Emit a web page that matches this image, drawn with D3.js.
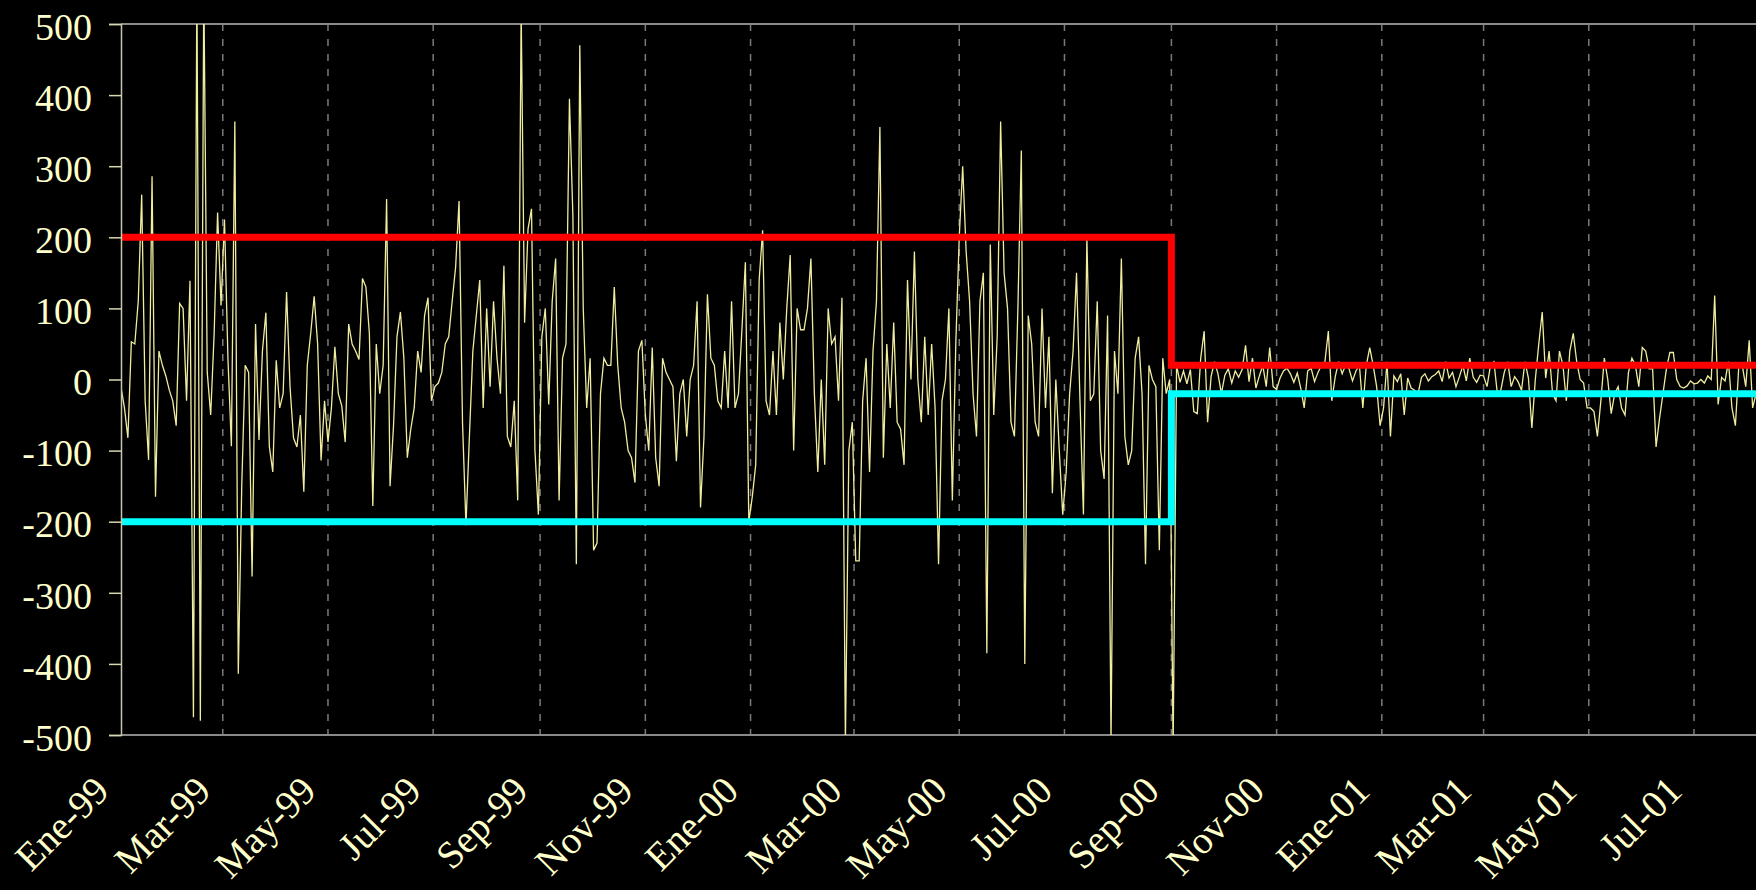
<!DOCTYPE html>
<html>
<head>
<meta charset="utf-8">
<script src="https://cdn.jsdelivr.net/npm/d3@7"></script>
<style>
  html, body { margin: 0; padding: 0; background: #000; }
  svg { display: block; }
</style>
</head>
<body>
<svg id="chart" width="1756" height="890"></svg>
<script>
// tick labels (every two months, starting Jan 1999)
const xLabels = ["Ene-99","Mar-99","May-99","Jul-99","Sep-99","Nov-99","Ene-00","Mar-00",
                 "May-00","Jul-00","Sep-00","Nov-00","Ene-01","Mar-01","May-01","Jul-01"];
const yTicks = [-500,-400,-300,-200,-100,0,100,200,300,400,500];

// daily series, one value every 2 days from 1 Jan 1999
const startDate = "1999-01-01";
const stepDays = 2;
const values1999a = [-11,-40,-82,53,50,110,260,-30,-113,286,
  -165,40,20,5,-15,-30,-65,107,100,-30,
  139,-475,560,-480,560,10,-50,64,235,104,
  225,30,-94,363,-414,-150,20,10,-277,78,
  -85,40,94,-94,-130,27,-40,-20,123,-10,
  -82,-95,-50,-158,20,65,117,50,-114,-30,
  -88,-40,46,-20,-37,-88,78,50,40,28,
  142,130,65,-178,50,-20,20];
const values1999b = [254,-150,-65,60,95,30,-110,-70,-40,40,
  10,90,115,-30,-10,-5,10,50,60,110,
  158,251,-60,-205,-80,40,90,140,-40,100,
  -10,110,30,-20,160,-80,-95,-30,-170,520,
  80,212,240,-100,-190,60,100,-35,110,170,
  -170,30,50,395,230,-260,470,100,-40,30,
  -240,-230,-20,30,20,20,130,20,-40,-60,
  -100,-110,-145,40,55,-50];
const values2000a = [-100,45,-110,-150,30,10,0,-10,-115,-20,
  0,-80,0,20,110,-180,-80,120,30,20,
  -30,-40,40,-40,110,-40,-20,70,165,-200,
  -165,-120,140,210,-30,-50,40,-50,80,0,
  100,175,-100,100,70,70,100,170,-20,-130,
  0,-120,100,50,60,-30,115,-510,-100,-60,
  -255,-255,-30,30,-130,40,110,355,-110,50,
  -40,80,-60,-70,-120,140,0];
const values2000b = [180,0,-60,60,-50,50,-40,-260,-30,0,
  100,-170,50,200,300,180,110,-20,-80,110,
  150,-385,190,-50,60,363,150,100,-60,-80,
  100,322,-400,90,50,-60,-80,100,-40,60,
  -160,0,-100,-190,-130,-20,40,150,-30,-190,
  200,-30,-20,110,-100,-140,90,-510,40,-20,
  170,-80,-120,-100,30,60,-20,-260,20,0,
  -10,-240,30,-20,0,-520];
const values2000c = [20,-4,12,-6,14,-45,-48,30,68,-60,
  4,25,8,-20,6,15,-5,12,3,14,
  48,-3,30,-12,5,20,-10,45,-10,-14,
  2,12,16,8,-4,9,-12,-40,12,16,
  -3,10,20,25,68,-30,4,25,8,20,
  15,-2,12,20,-40,20,45,20,-10,-65,
  -40,25,-80,5,-3,8,-50,2,-12,-15,
  -20,3,8,-2,4,7,12,-3,25,2,
  10,-10,4,20];
const values2001 = [-2,30,3,-4,6,5,-10,20,25,-20,
  -15,10,25,-10,4,-3,-15,25,2,-68,
  0,50,95,2,40,-20,-30,40,20,-30,
  40,65,25,0,-5,-40,-40,-45,-80,-30,
  30,0,-48,-20,-10,-40,-50,10,30,20,
  -10,45,40,15,15,-95,-55,-20,15,38,
  38,0,-10,-12,-9,-2,-6,-5,0,-5,
  5,0,118,-35,3,-2,25,-40,-65,20,
  20,-10,55,-40,-20,10];

// control limits
const limitDates = ["1999-01-01","2000-09-01","2001-08-15"];
const upperLimits = [200, 20];
const lowerLimits = [-200, -20];

const W = 1756, H = 890;
const margin = {top: 24, left: 121, right: 0, bottom: 155};
const parse = d3.timeParse("%Y-%m-%d");

const svg = d3.select("#chart");
svg.append("rect").attr("width", W).attr("height", H).attr("fill", "#000");

const x = d3.scaleTime()
    .domain([new Date(1999, 0, 1), new Date(2001, 6, 1)])
    .range([margin.left, 1694]);
const y = d3.scaleLinear()
    .domain([-500, 500])
    .range([H - margin.bottom, margin.top]);

const x0 = margin.left, x1 = W - margin.right;
const yTop = y(500), yBot = y(-500);

svg.append("clipPath").attr("id", "plotClip")
  .append("rect")
    .attr("x", x0).attr("y", yTop)
    .attr("width", x1 - x0).attr("height", yBot - yTop);

const textColor = "#ffffcc";
const fontFamily = "'Liberation Serif','Times New Roman',serif";

// vertical dashed gridlines
const tickDates = xLabels.map((d, i) => d3.timeMonth.offset(parse(startDate), 2 * i));
svg.append("g")
  .selectAll("line")
  .data(tickDates.slice(1))
  .join("line")
    .attr("x1", d => x(d)).attr("x2", d => x(d))
    .attr("y1", yTop).attr("y2", yBot)
    .attr("stroke", "#7a7a7a")
    .attr("stroke-width", 1.5)
    .attr("stroke-dasharray", "7,8");

// top and bottom frame lines
svg.append("g")
  .selectAll("line")
  .data([500, -500])
  .join("line")
    .attr("x1", x0).attr("x2", x1)
    .attr("y1", d => y(d)).attr("y2", d => y(d))
    .attr("stroke", "#8a8a8a")
    .attr("stroke-width", 2);

// data series
const allValues = [].concat(values1999a, values1999b, values2000a, values2000b, values2000c, values2001);
const series = allValues.map((v, i) => ({
  date: d3.timeDay.offset(parse(startDate), i * stepDays),
  value: v
}));

const line = d3.line()
    .x(d => x(d.date))
    .y(d => y(d.value));

svg.append("path")
    .datum(series)
    .attr("clip-path", "url(#plotClip)")
    .attr("fill", "none")
    .attr("stroke", "#f0eca0")
    .attr("stroke-width", 1.3)
    .attr("d", line);

// limit lines (step at the change date)
function limitPoints(vals) {
  const d0 = parse(limitDates[0]), d1 = parse(limitDates[1]), d2 = parse(limitDates[2]);
  return [
    {date: d0, value: vals[0]},
    {date: d1, value: vals[0]},
    {date: d1, value: vals[1]},
    {date: d2, value: vals[1]}
  ];
}
svg.append("path")
    .datum(limitPoints(lowerLimits))
    .attr("clip-path", "url(#plotClip)")
    .attr("fill", "none")
    .attr("stroke", "#00ffff")
    .attr("stroke-width", 7)
    .attr("d", line);
svg.append("path")
    .datum(limitPoints(upperLimits))
    .attr("clip-path", "url(#plotClip)")
    .attr("fill", "none")
    .attr("stroke", "#ff0000")
    .attr("stroke-width", 7)
    .attr("d", line);

// y axis
const yAxis = svg.append("g")
    .attr("transform", `translate(${x0},0)`)
    .call(d3.axisLeft(y).tickValues(yTicks).tickSize(12).tickPadding(17).tickFormat(d => String(d)));
yAxis.select(".domain").attr("stroke", "#c8c8a8").attr("stroke-width", 1.5);
yAxis.selectAll(".tick line").attr("stroke", "#d8d8b0").attr("stroke-width", 1.5);
yAxis.selectAll(".tick text")
    .attr("fill", textColor)
    .attr("font-family", fontFamily)
    .attr("font-size", 38)
    .attr("dy", "0.4em");

// x labels, rotated
svg.append("g")
  .selectAll("text")
  .data(xLabels)
  .join("text")
    .attr("transform", (d, i) => `translate(${x(tickDates[i]) - 10},${yBot + 58}) rotate(-45)`)
    .attr("text-anchor", "end")
    .attr("fill", textColor)
    .attr("font-family", fontFamily)
    .attr("font-size", 39)
    .text(d => d);
</script>
</body>
</html>
